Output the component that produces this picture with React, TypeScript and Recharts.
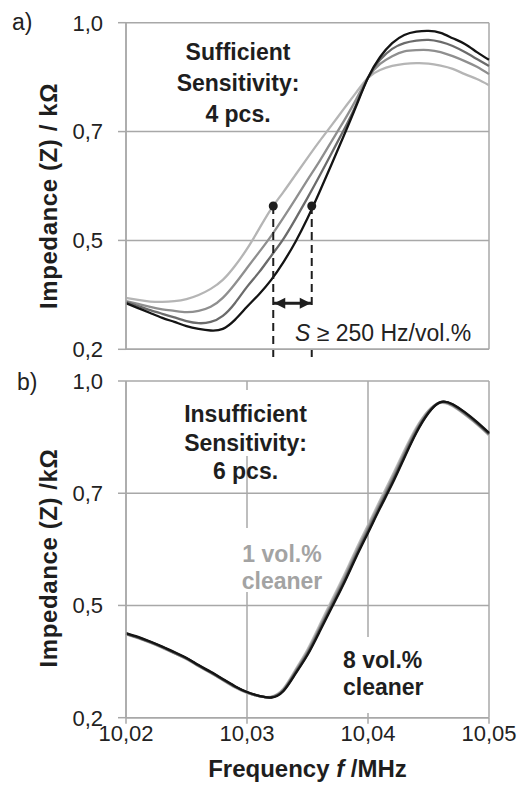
import React from 'react';
import {
  LineChart, Line, XAxis, YAxis, CartesianGrid, ReferenceLine, ReferenceDot,
} from 'recharts';

// frequency grid, MHz
const FREQ = [
  10.020, 10.021, 10.022, 10.023, 10.024, 10.025, 10.026, 10.027, 10.028, 10.029, 10.030,
  10.031, 10.032, 10.033, 10.034, 10.035, 10.036, 10.037, 10.038, 10.039, 10.040,
  10.041, 10.042, 10.043, 10.044, 10.045, 10.046, 10.047, 10.048, 10.049, 10.050,
];

// a) impedance, kOhm, four cleaner concentrations (light -> dark)
const TOP_1 = [0.326, 0.321, 0.317, 0.316, 0.318, 0.323, 0.333, 0.348, 0.370, 0.404, 0.446, 0.495, 0.544, 0.585, 0.627, 0.669, 0.710, 0.749, 0.789, 0.828, 0.865, 0.884, 0.894, 0.899, 0.901, 0.900, 0.895, 0.887, 0.874, 0.862, 0.847];
const TOP_2 = [0.318, 0.311, 0.304, 0.298, 0.294, 0.291, 0.294, 0.304, 0.326, 0.360, 0.399, 0.438, 0.478, 0.522, 0.568, 0.615, 0.661, 0.710, 0.759, 0.811, 0.865, 0.899, 0.918, 0.930, 0.933, 0.933, 0.928, 0.918, 0.906, 0.892, 0.874];
const TOP_3 = [0.316, 0.306, 0.296, 0.287, 0.278, 0.269, 0.264, 0.267, 0.282, 0.313, 0.353, 0.389, 0.429, 0.470, 0.519, 0.571, 0.625, 0.681, 0.737, 0.798, 0.865, 0.909, 0.936, 0.950, 0.956, 0.958, 0.953, 0.943, 0.928, 0.911, 0.894];
const TOP_4 = [0.313, 0.301, 0.289, 0.277, 0.267, 0.257, 0.250, 0.246, 0.250, 0.272, 0.304, 0.335, 0.370, 0.413, 0.463, 0.521, 0.586, 0.654, 0.723, 0.794, 0.865, 0.916, 0.950, 0.970, 0.978, 0.980, 0.975, 0.962, 0.948, 0.928, 0.909];

// b) impedance, kOhm, six sensors (1 vol.% light -> 8 vol.% black)
const BOT_1 = [0.398, 0.389, 0.378, 0.366, 0.353, 0.339, 0.322, 0.306, 0.289, 0.272, 0.259, 0.251, 0.250, 0.269, 0.314, 0.362, 0.420, 0.479, 0.537, 0.599, 0.658, 0.717, 0.775, 0.835, 0.890, 0.930, 0.948, 0.940, 0.920, 0.897, 0.871];
const BOT_2 = [0.399, 0.389, 0.379, 0.367, 0.353, 0.340, 0.323, 0.307, 0.290, 0.273, 0.260, 0.251, 0.249, 0.268, 0.312, 0.359, 0.416, 0.475, 0.533, 0.595, 0.654, 0.713, 0.771, 0.831, 0.887, 0.929, 0.949, 0.941, 0.921, 0.898, 0.872];
const BOT_3 = [0.399, 0.390, 0.379, 0.367, 0.354, 0.340, 0.323, 0.307, 0.290, 0.273, 0.260, 0.251, 0.249, 0.266, 0.310, 0.356, 0.413, 0.471, 0.529, 0.591, 0.650, 0.709, 0.767, 0.828, 0.885, 0.928, 0.949, 0.942, 0.922, 0.899, 0.873];
const BOT_4 = [0.400, 0.390, 0.380, 0.368, 0.354, 0.341, 0.324, 0.308, 0.291, 0.274, 0.260, 0.251, 0.249, 0.265, 0.308, 0.354, 0.410, 0.468, 0.525, 0.587, 0.646, 0.705, 0.763, 0.824, 0.882, 0.926, 0.950, 0.943, 0.923, 0.900, 0.874];
const BOT_5 = [0.400, 0.391, 0.380, 0.368, 0.355, 0.341, 0.324, 0.308, 0.291, 0.274, 0.261, 0.252, 0.248, 0.264, 0.306, 0.351, 0.407, 0.464, 0.521, 0.583, 0.642, 0.701, 0.759, 0.820, 0.879, 0.925, 0.950, 0.944, 0.925, 0.901, 0.875];
const BOT_8 = [0.401, 0.392, 0.381, 0.369, 0.356, 0.342, 0.325, 0.309, 0.292, 0.275, 0.261, 0.252, 0.248, 0.263, 0.304, 0.349, 0.404, 0.461, 0.518, 0.580, 0.639, 0.698, 0.755, 0.817, 0.877, 0.924, 0.950, 0.945, 0.926, 0.903, 0.877];

const X_TICKS = [10.02, 10.03, 10.04, 10.05];
const Y_TICKS = [0.2, 0.4667, 0.7333, 1.0];

// sensitivity markers in a)
const MARK_F = [10.03217, 10.03535];
const MARK_Z = 0.551;
const MARK_Z_END = 0.18;
const ARROW_Z = 0.313;

const TOP_COLORS = ['#b5b5b5', '#8f8f8f', '#6b6b6b', '#141414'];
const BOT_COLORS = ['#c4c4c4', '#adadad', '#949494', '#747474', '#4c4c4c', '#141414'];

const topData = FREQ.map((f, i) => ({ f, a: TOP_1[i], b: TOP_2[i], c: TOP_3[i], d: TOP_4[i] }));
const botData = FREQ.map((f, i) => ({
  f, a: BOT_1[i], b: BOT_2[i], c: BOT_3[i], d: BOT_4[i], e: BOT_5[i], g: BOT_8[i],
}));

const FONT = '"Liberation Sans", Arial, sans-serif';
const GRID = '#a8a8a8';
const INK = '#1e1e1e';
const fmtX = (v: number) => v.toFixed(2).replace('.', ',');
const fmtY = (v: number) => v.toFixed(1).replace('.', ',');

const LeftHead = (p: any) => (
  <polygon points={`${p.cx + 1},${p.cy} ${p.cx + 12},${p.cy - 5.5} ${p.cx + 12},${p.cy + 5.5}`} fill={INK} />
);
const RightHead = (p: any) => (
  <polygon points={`${p.cx - 1},${p.cy} ${p.cx - 12},${p.cy - 5.5} ${p.cx - 12},${p.cy + 5.5}`} fill={INK} />
);

const axisCommon = {
  stroke: GRID,
  strokeWidth: 1.5,
  tick: { fill: '#222', fontSize: 22, fontFamily: FONT },
};

const App = () => (
  <div style={{ position: 'absolute', left: 0, top: 0, width: 521, height: 790, background: '#fff', fontFamily: FONT }}>
    <div style={{ position: 'absolute', left: 0, top: 0 }}>
      <LineChart width={521} height={370} data={topData} margin={{ top: 22.7, right: 32, bottom: 0, left: 0 }}>
        <CartesianGrid stroke={GRID} strokeWidth={1.5} />
        <XAxis
          dataKey="f" type="number" domain={[10.02, 10.05]} ticks={X_TICKS}
          height={20.7} tick={false} tickSize={6} {...{ stroke: GRID, strokeWidth: 1.5 }}
        />
        <YAxis
          type="number" domain={[0.2, 1.0]} ticks={Y_TICKS} allowDataOverflow
          width={126} tickSize={8} tickMargin={15} tickFormatter={fmtY} {...axisCommon}
        />
        {['a', 'b', 'c', 'd'].map((k, i) => (
          <Line key={k} dataKey={k} type="natural" stroke={TOP_COLORS[i]} strokeWidth={2.3} dot={false} isAnimationActive={false} />
        ))}
        {MARK_F.map((f) => (
          <ReferenceLine
            key={`l${f}`} segment={[{ x: f, y: MARK_Z }, { x: f, y: MARK_Z_END }]}
            stroke={INK} strokeWidth={2} strokeDasharray="8 5" ifOverflow="visible"
          />
        ))}
        {MARK_F.map((f) => (
          <ReferenceDot key={`d${f}`} x={f} y={MARK_Z} r={4.5} fill={INK} stroke="none" ifOverflow="visible" />
        ))}
        <ReferenceLine
          segment={[{ x: MARK_F[0], y: ARROW_Z }, { x: MARK_F[1], y: ARROW_Z }]}
          stroke={INK} strokeWidth={3} ifOverflow="visible"
        />
        <ReferenceDot x={MARK_F[0]} y={ARROW_Z} shape={LeftHead} ifOverflow="visible" />
        <ReferenceDot x={MARK_F[1]} y={ARROW_Z} shape={RightHead} ifOverflow="visible" />
      </LineChart>
    </div>

    <div style={{ position: 'absolute', left: 0, top: 360 }}>
      <LineChart width={521} height={430} data={botData} margin={{ top: 21, right: 32, bottom: 0, left: 0 }}>
        <CartesianGrid stroke={GRID} strokeWidth={1.5} />
        <XAxis
          dataKey="f" type="number" domain={[10.02, 10.05]} ticks={X_TICKS}
          height={72.3} tickSize={6} tickMargin={2} tickFormatter={fmtX} {...axisCommon}
        />
        <YAxis
          type="number" domain={[0.2, 1.0]} ticks={Y_TICKS} allowDataOverflow
          width={126} tickSize={8} tickMargin={15} tickFormatter={fmtY} {...axisCommon}
        />
        {['a', 'b', 'c', 'd', 'e', 'g'].map((k, i) => (
          <Line key={k} dataKey={k} type="natural" stroke={BOT_COLORS[i]} strokeWidth={2.3} dot={false} isAnimationActive={false} />
        ))}
      </LineChart>
    </div>

    {/* labels and annotation boxes */}
    <svg width={521} height={790} style={{ position: 'absolute', left: 0, top: 0, pointerEvents: 'none' }} fontFamily={FONT}>
      <text x={12} y={30} fontSize={23} fill="#222">a)</text>
      <text x={17} y={390} fontSize={23} fill="#222">b)</text>

      <text x={57} y={196} transform="rotate(-90 57 196)" textAnchor="middle" fontSize={24} fontWeight="bold" letterSpacing={0.6} fill={INK}>
        Impedance (Z) / kΩ
      </text>
      <text x={57} y={558} transform="rotate(-90 57 558)" textAnchor="middle" fontSize={24} fontWeight="bold" letterSpacing={0.6} fill={INK}>
        Impedance (Z) /kΩ
      </text>
      <text x={307.5} y={777} textAnchor="middle" fontSize={24} fontWeight="bold" fill={INK}>
        Frequency <tspan fontStyle="italic">f</tspan> /MHz
      </text>

      <rect x={172} y={29} width={132} height={70} fill="#fff" />
      <g fontSize={23} fontWeight="bold" fill={INK} textAnchor="middle">
        <text x={238} y={60}>Sufficient</text>
        <text x={238} y={91}>Sensitivity:</text>
        <text x={238} y={122}>4 pcs.</text>
      </g>

      <rect x={176} y={390} width={138} height={66} fill="#fff" />
      <g fontSize={23} fontWeight="bold" fill={INK} textAnchor="middle">
        <text x={245.5} y={421.5}>Insufficient</text>
        <text x={245.5} y={450.5}>Sensitivity:</text>
        <text x={245.5} y={479}>6 pcs.</text>
      </g>

      <rect x={236} y={528} width={95} height={64} fill="#fff" />
      <g fontSize={23} fontWeight="bold" fill="#a3a3a3" textAnchor="middle">
        <text x={282} y={561.5}>1 vol.%</text>
        <text x={282} y={588.5}>cleaner</text>
      </g>

      <rect x={336} y={637} width={100} height={76} fill="#fff" />
      <g fontSize={23} fontWeight="bold" fill={INK}>
        <text x={343} y={668.3}>8 vol.%</text>
        <text x={343} y={695}>cleaner</text>
      </g>

      <rect x={290} y={310} width={195} height={37} fill="#fff" />
      <text x={295} y={340.7} fontSize={23} fill="#222">
        <tspan fontStyle="italic">S</tspan> ≥ 250 Hz/vol.%
      </text>
    </svg>
  </div>
);

export default App;
